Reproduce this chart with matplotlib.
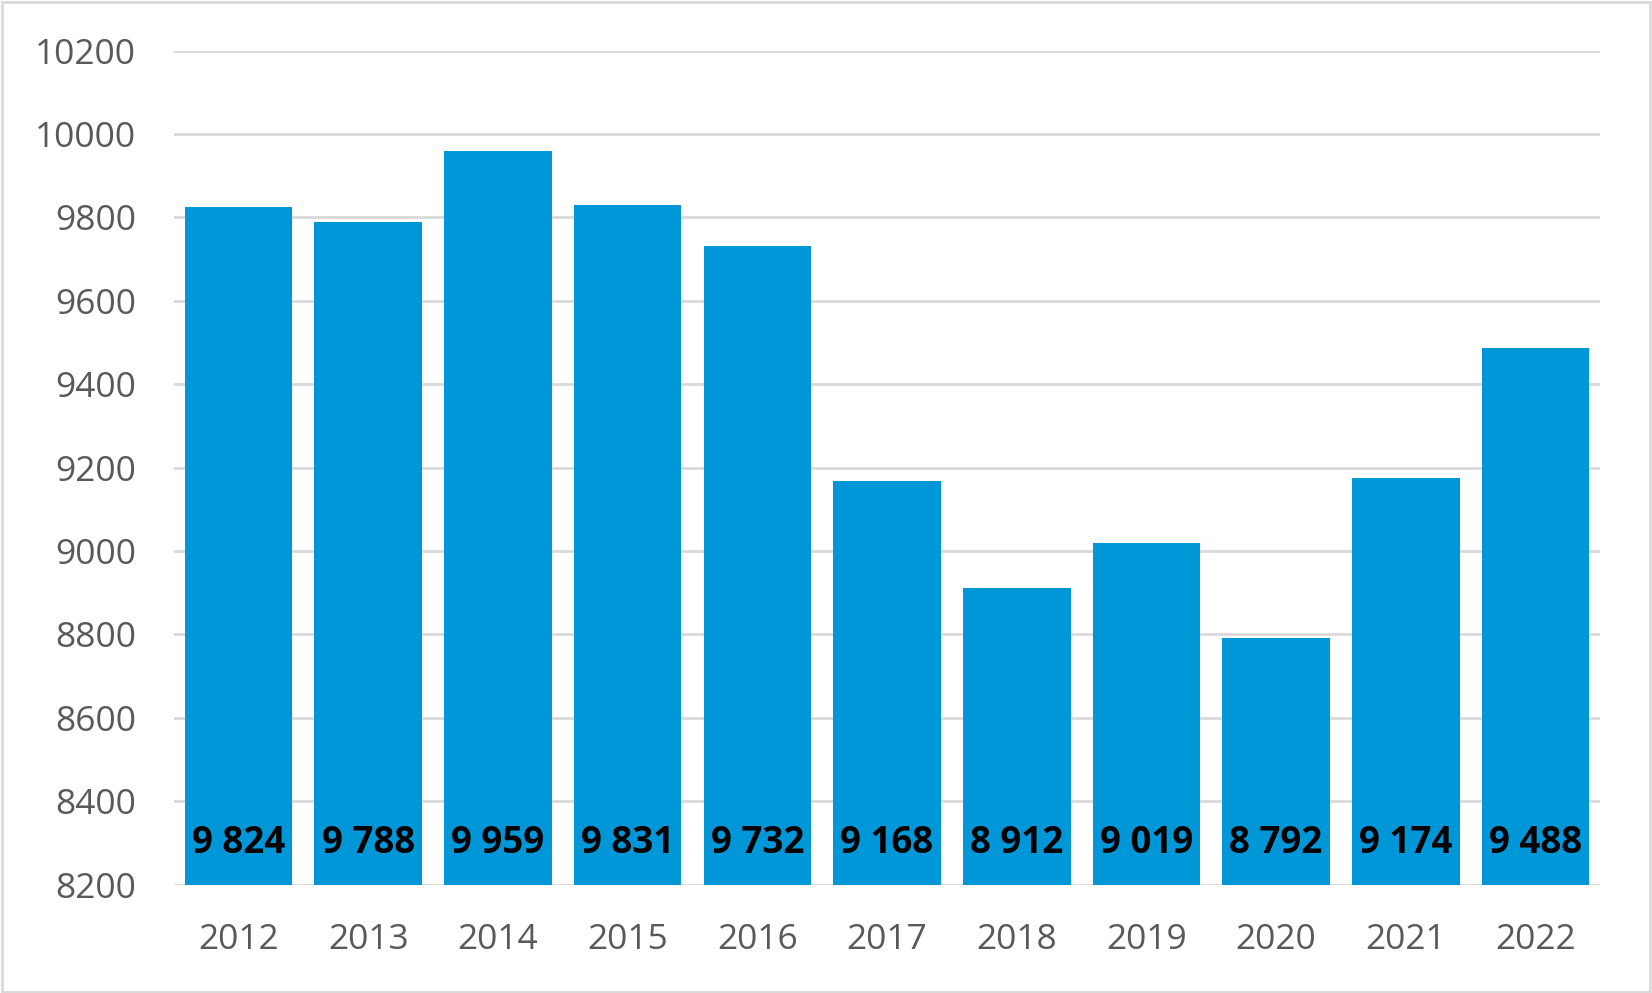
import matplotlib.pyplot as plt
import matplotlib.transforms as mtransforms
from matplotlib.patches import Rectangle

years = ['2012', '2013', '2014', '2015', '2016', '2017', '2018', '2019', '2020', '2021', '2022']
values = [9824, 9788, 9959, 9831, 9732, 9168, 8912, 9019, 8792, 9174, 9488]
labels = ['9 824', '9 788', '9 959', '9 831', '9 732', '9 168', '8 912', '9 019', '8 792', '9 174', '9 488']
yticks = [8200, 8400, 8600, 8800, 9000, 9200, 9400, 9600, 9800, 10000, 10200]

plt.rcParams['font.family'] = ['Open Sans', 'DejaVu Sans']

fig = plt.figure(figsize=(16.52, 9.93), dpi=100)
ax = fig.add_axes([0.1052, 0.1092, 0.9687 - 0.1052, 0.949 - 0.1092])

x = range(len(years))
ax.bar(x, values, width=0.83, color='#0097D9', zorder=2)
ax.set_xlim(-0.5, len(years) - 0.5)
ax.set_ylim(8200, 10200)
ax.set_yticks(yticks)
ax.set_xticks(list(x))
ax.set_xticklabels(years)
ax.grid(axis='y', color='#D9D9D9', linewidth=2, zorder=0)
ax.set_axisbelow(True)
for s in ax.spines.values():
    s.set_visible(False)
ax.tick_params(axis='both', length=0, labelsize=25.5, colors='#595959')
ax.tick_params(axis='y', pad=27)
ax.tick_params(axis='x', pad=28)

trans = mtransforms.blended_transform_factory(ax.transData, ax.transAxes)
for i, lab in enumerate(labels):
    ax.text(i, 0.0495, lab, transform=trans, ha='center', va='center',
            fontsize=26.5, fontweight='bold', color='black', zorder=3)

fig.patches.append(Rectangle((0.001, 0.001), 0.998, 0.997, transform=fig.transFigure,
                             fill=False, edgecolor='#D9D9D9', linewidth=2))

fig.savefig('out.png', dpi=100)
